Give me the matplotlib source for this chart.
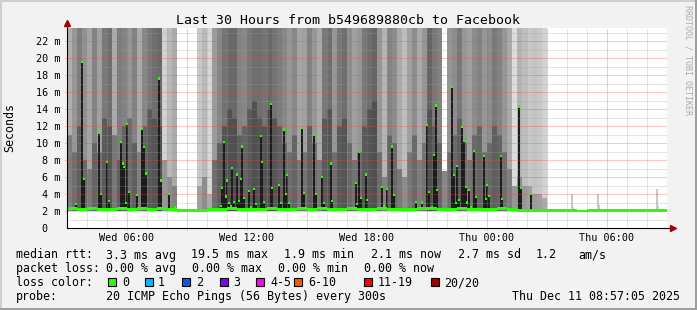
import matplotlib
matplotlib.use("Agg")
import matplotlib.pyplot as plt
from matplotlib.patches import Rectangle
from matplotlib.transforms import ScaledTranslation

W, H = 697, 310
MONO = "DejaVu Sans Mono"

title = "Last 30 Hours from b549689880cb to Facebook"

# x axis runs in hours since Wed 03:00
x_tick_hours = [3, 9, 15, 21, 27]
x_tick_labels = ["Wed 06:00", "Wed 12:00", "Wed 18:00", "Thu 00:00", "Thu 06:00"]
y_tick_ms = [0, 2, 4, 6, 8, 10, 12, 14, 16, 18, 20, 22]

# smoke (ping spread), 15 minute bins from Wed 03:00 to Thu 03:00
# grey level of the upper and lower part of each column, None = no spread
smoke_upper = [
    175, 150, 125, 145, 165, 130, 160, 120, 110, 170, 125, 130,
    150, 130, 170, 135, 120, 110, 105, 210, 185, 170, None, None,
    None, None, 200, 185, 215, 155, 135, 115, 105, 105, 130, 135,
    120, 110, 110, 115, 105, 115, 125, 135, 150, 135, 165, 160,
    130, 150, 170, 120, 110, 150, 120, 110, 140, 160, 150, 120,
    110, 100, 150, 180, 130, 140, 170, 190, 160, 140, 170, 150,
    100, 120, 130, None, 150, 140, 120, 150, 160, 140, 130, 150,
    140, 120, 130, 150, 170, 220, 180, 190, 200, 195, 200, 210,
]
smoke_lower = [
    125, 110, 95, 105, 120, 100, 115, 90, 85, 120, 95, 100,
    110, 95, 130, 100, 90, 85, 80, 150, 140, 130, None, None,
    None, None, 160, 140, 170, 110, 95, 85, 80, 80, 95, 100,
    90, 80, 85, 85, 80, 85, 95, 100, 110, 100, 120, 115,
    95, 110, 120, 90, 85, 110, 90, 85, 105, 115, 110, 90,
    85, 80, 110, 130, 100, 105, 120, 140, 120, 105, 125, 115,
    80, 95, 100, 135, 110, 105, 95, 110, 115, 105, 100, 110,
    105, 95, 100, 110, 125, 150, 140, 150, 160, 155, 160, 170,
]
# height (ms) where the lower part turns into the upper part
smoke_split = [
    11, 9, 12, 8, 7, 10, 9, 13, 12, 11, 8, 12,
    13, 10, 9, 12, 14, 13, 12, 8, 6, 5, None, None,
    None, None, 5, 6, 4, 8, 10, 12, 14, 13, 11, 12,
    14, 15, 13, 12, 14, 13, 12, 10, 9, 11, 8, 9,
    12, 10, 8, 13, 14, 9, 12, 13, 10, 8, 9, 12,
    14, 15, 9, 6, 11, 10, 7, 6, 9, 11, 8, 10,
    14, 12, 10, 6.7, 9, 11, 13, 10, 8, 11, 12, 9,
    10, 12, 11, 9, 7, 5, 6, 5, 5, 4, 4, 3.5,
]
smoke_floor_ms = 2.0
smoke_top_ms = 25.0  # the spread runs off the top of the chart

# median rtt baseline, 30 minute bins over the full 30 hours
median_base = [
    2.3, 2.2, 2.3, 2.2, 2.2, 2.3, 2.2, 2.3, 2.2, 2.3, 2.2, 2.1,
    2.1, 2.1, 2.2, 2.2, 2.3, 2.2, 2.2, 2.2, 2.3, 2.2, 2.2, 2.3,
    2.2, 2.3, 2.2, 2.2, 2.3, 2.2, 2.2, 2.3, 2.2, 2.2, 2.2, 2.3,
    2.3, 2.2, 2.2, 2.3, 2.2, 2.2, 2.2, 2.3, 2.2, 2.1, 2.1, 2.1,
    2.1, 2.1, 2.1, 2.0, 2.1, 2.1, 2.1, 2.1, 2.1, 2.1, 2.1, 2.1,
]

# median rtt samples that stand out from the baseline
spike_hours = [
    0.38, 0.70, 0.78, 1.53, 1.65, 1.97, 2.05, 2.63, 2.73, 2.80, 2.88,
    2.97, 3.05, 3.45, 3.72, 3.80, 3.90, 4.53, 4.65, 5.05, 5.37,
    7.63, 7.70, 7.78, 7.88, 7.95, 8.05, 8.13, 8.22, 8.30, 8.47, 8.55,
    8.65, 8.72, 8.80, 9.03, 9.15, 9.28, 9.38, 9.65, 9.72, 9.80, 10.15,
    10.22, 10.55, 10.67, 10.78, 10.90, 10.97, 11.03, 11.70, 11.78,
    12.28, 12.40, 12.70, 12.78, 13.15, 13.22, 14.38, 14.47, 14.53, 14.63,
    14.90, 14.97, 15.70, 15.80, 15.97, 16.20, 16.28, 17.38, 17.72, 17.97,
    18.05,
    18.20, 18.30, 18.40, 18.47, 19.20, 19.28, 19.38, 19.45, 19.55, 19.72,
    19.78, 19.88, 19.97, 20.03, 20.13, 20.28, 20.40, 20.78, 20.88, 20.97,
    21.05, 21.63, 21.72, 22.53, 22.65, 23.15,
]
spike_ms = [
    2.8, 19.5, 5.8, 11.2, 4.0, 7.8, 3.2, 10.1, 7.6, 7.2, 2.9,
    12.2, 4.2, 3.9, 11.7, 9.5, 6.4, 17.6, 5.6, 4.0, 2.5,
    2.55, 4.75, 10.1, 3.7, 5.6, 2.9, 2.55, 7.1, 3.1, 6.3, 3.2,
    5.8, 9.6, 3.5, 4.35, 2.5, 4.6, 2.8, 10.8, 7.8, 3.1, 14.6,
    4.7, 5.1, 2.9, 11.6, 4.0, 6.2, 2.9, 11.8, 4.1,
    11.0, 4.0, 6.0, 2.9, 7.6, 3.2, 5.3, 2.8, 8.9, 3.5,
    6.3, 3.3, 4.8, 2.6, 4.55, 9.6, 3.9, 3.1, 3.0, 12.1,
    4.2,
    2.5, 8.6, 14.4, 4.5, 16.6, 6.2, 2.9, 7.3, 3.3, 11.9,
    10.2, 4.8, 3.0, 4.5, 2.5, 9.1, 3.65, 8.5, 3.4, 5.1,
    3.8, 8.5, 3.4, 14.3, 4.7, 4.0,
]

# small bits of spread in the quiet part on Thursday morning
quiet_hours = [25.2, 25.27, 26.5, 26.57, 29.45, 29.52]
quiet_ms = [4.0, 2.5, 4.05, 2.7, 4.55, 2.55]

stats_rtt = ["3.3 ms avg", "19.5 ms max", "1.9 ms min", "2.1 ms now",
             "2.7 ms sd", "1.2", "am/s"]
stats_loss = ["0.00 % avg", "0.00 % max", "0.00 % min", "0.00 % now"]
loss_labels = ["0", "1", "2", "3", "4-5", "6-10", "11-19", "20/20"]
loss_colors = ["#26ff00", "#00b8ff", "#0059ff", "#7e00ff",
               "#ff00fe", "#ff5500", "#ff0000", "#a10000"]
probe_text = "20 ICMP Echo Pings (56 Bytes) every 300s"
stamp = "Thu Dec 11 08:57:05 2025"

BIN = 0.25


def grey(level):
    return (level / 255.0,) * 3


def fx(px):
    return px / W


def fy(py):
    return 1 - py / H


fig = plt.figure(figsize=(W / 100, H / 100), dpi=100, facecolor="#f2f2f2")
ax = fig.add_axes([fx(67), fy(228), fx(600), 200 / H])
ax.set_facecolor("white")
ax.set_xlim(0, 30)
ax.set_ylim(0, 200 / 8.5)
for s in ax.spines.values():
    s.set_visible(False)
ax.set_xticks([])
ax.set_yticks([])

# smoke
for i, (up, lo, sp) in enumerate(zip(smoke_upper, smoke_lower, smoke_split)):
    left = i * BIN
    if lo is not None:
        ax.bar(left, sp - smoke_floor_ms, BIN, bottom=smoke_floor_ms,
               align="edge", color=grey(lo), linewidth=0, zorder=1)
    if up is not None:
        ax.bar(left, smoke_top_ms - sp, BIN, bottom=sp,
               align="edge", color=grey(up), linewidth=0, zorder=1)

ax.bar(quiet_hours, [v - smoke_floor_ms for v in quiet_ms], 0.1,
       bottom=smoke_floor_ms, align="edge", color="#c8c8c8", linewidth=0,
       zorder=1)

# dark columns under the high medians
base_at = [median_base[int(h / 0.5)] for h in spike_hours]
ax.bar(spike_hours, [v - b for v, b in zip(spike_ms, base_at)], 0.1,
       bottom=base_at, align="edge", color="#1c1c1c", linewidth=0, zorder=2)

# grid on top of the smoke, 1px dots
dots = (0, (1, 1))
for h in range(1, 30):
    if h % 3 == 0:
        ax.axvline(h, ymin=-0.012, color="#ff4040", alpha=0.6, lw=0.72,
                   ls=dots, zorder=5, clip_on=False)
    else:
        ax.axvline(h, color="#a0a0a0", alpha=0.55, lw=0.72, ls=dots,
                   zorder=4)
for v in range(1, 24):
    if v % 2 == 0:
        ax.axhline(v, xmin=-0.004, color="#ff4040", alpha=0.6, lw=0.72,
                   ls=dots, zorder=5, clip_on=False)
    else:
        ax.axhline(v, color="#a0a0a0", alpha=0.55, lw=0.72, ls=dots,
                   zorder=4)

# median line
base_left = [i * 0.5 for i in range(len(median_base))]
ax.bar(base_left, 0.32, 0.5, bottom=[m - 0.16 for m in median_base],
       align="edge", color="#26ff00", linewidth=0, zorder=6)
ax.bar(spike_hours, 0.26, 0.1, bottom=[v - 0.13 for v in spike_ms],
       align="edge", color="#26ff00", linewidth=0, zorder=6)

# axes with arrows
ax.plot([0, 30.25], [0, 0], color="black", lw=0.8, zorder=7, clip_on=False)
ax.plot([0, 0], [0, 24.0], color="black", lw=0.8, zorder=7, clip_on=False)
ax.plot([30.3], [0], marker=">", ms=4, color="#a00000", zorder=8,
        clip_on=False)
ax.plot([0], [24.1], marker="^", ms=4, color="#a00000", zorder=8,
        clip_on=False)

# tick labels
tick_font = dict(family=MONO, fontsize=7.3, color="black")
for h, lab in zip(x_tick_hours, x_tick_labels):
    ax.text(h, -12.7 / 200, lab, transform=ax.get_xaxis_transform(),
            ha="center", va="baseline", **tick_font)
for v in y_tick_ms:
    lab = "%d m" % v if v else "0"
    dx = -7 if v else -19.2
    off = ScaledTranslation(dx * 0.72 / 72, -3.7 * 0.72 / 72,
                            fig.dpi_scale_trans)
    ax.text(0, v, lab, transform=ax.get_yaxis_transform() + off,
            ha="right", va="baseline", **tick_font)

fig.text(fx(348), fy(24), title, ha="center", va="baseline",
         family=MONO, fontsize=9.5)
fig.text(fx(10), fy(128), "Seconds", rotation=90, ha="center", va="center",
         family=MONO, fontsize=8.4)
fig.text(fx(688), fy(60), "RRDTOOL / TOBI OETIKER", rotation=270,
         ha="center", va="center", family=MONO, fontsize=6, color="#aaaaaa")

# legend
leg = dict(family=MONO, fontsize=8.4, va="baseline", ha="left")
rows = [258.5, 272.3, 286.1, 299.9]
fig.text(fx(15.5), fy(rows[0]), "median rtt:", **leg)
for x, s in zip([106, 191, 284.5, 371, 457.5, 535.5, 578], stats_rtt):
    fig.text(fx(x), fy(rows[0]), s, **leg)
fig.text(fx(15.5), fy(rows[1]), "packet loss:", **leg)
for x, s in zip([106, 192.3, 278, 364.3], stats_loss):
    fig.text(fx(x), fy(rows[1]), s, **leg)
fig.text(fx(15.5), fy(rows[2]), "loss color:", **leg)
box_x = [108, 145.3, 182.2, 219.6, 256.4, 293.8, 364.4, 430.7]
lab_x = [122.6, 157.7, 196, 233.2, 270.6, 307.9, 377.7, 444.3]
for bx, lx, lab, col in zip(box_x, lab_x, loss_labels, loss_colors):
    fig.add_artist(Rectangle((fx(bx), fy(286)), fx(8), 8 / H,
                             transform=fig.transFigure, facecolor=col,
                             edgecolor="black", lw=0.8))
    fig.text(fx(lx), fy(rows[2]), lab, **leg)
fig.text(fx(15.5), fy(rows[3]), "probe:", **leg)
fig.text(fx(106), fy(rows[3]), probe_text, **leg)
fig.text(fx(512.3), fy(rows[3]), stamp, **leg)

# canvas frame
fig.add_artist(Rectangle((0, fy(2)), 1, 2 / H, transform=fig.transFigure,
                         color="#cfcfcf", lw=0))
fig.add_artist(Rectangle((0, 0), fx(2), 1, transform=fig.transFigure,
                         color="#cfcfcf", lw=0))
fig.add_artist(Rectangle((0, 0), 1, 2 / H, transform=fig.transFigure,
                         color="#9e9e9e", lw=0))
fig.add_artist(Rectangle((fx(695), 0), fx(2), 1, transform=fig.transFigure,
                         color="#9e9e9e", lw=0))

fig.savefig("out.png", dpi=100, facecolor=fig.get_facecolor())
